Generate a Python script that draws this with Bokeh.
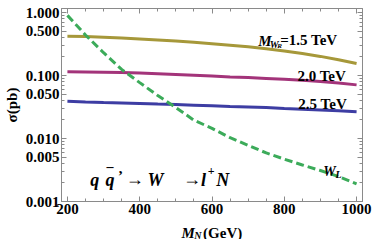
import math
from bokeh.plotting import figure
from bokeh.layouts import column
from bokeh.models import (FixedTicker, PrintfTickFormatter, Label, LogAxis,
                          LinearAxis, Range1d)
from bokeh.embed import file_html
from bokeh.resources import INLINE

# ---- data ----
mn = [200, 250, 300, 350, 400, 450, 500, 550, 600, 650, 700, 750, 800, 850, 900, 950, 1000]
sigma_15 = [0.42, 0.415, 0.405, 0.393, 0.38, 0.366, 0.352, 0.336, 0.32, 0.303, 0.285,
            0.265, 0.245, 0.223, 0.201, 0.178, 0.155]
sigma_20 = [0.115, 0.114, 0.113, 0.112, 0.11, 0.107, 0.104, 0.101, 0.098, 0.095, 0.093,
            0.09, 0.087, 0.084, 0.080, 0.076, 0.071]
sigma_25 = [0.039, 0.038, 0.0372, 0.0366, 0.036, 0.0352, 0.0345, 0.0338, 0.033, 0.0322,
            0.0316, 0.031, 0.030, 0.0292, 0.0284, 0.0275, 0.0265]
sigma_wl = [0.9, 0.44, 0.23, 0.125, 0.077, 0.048, 0.031, 0.0195, 0.0145, 0.0103, 0.0078,
            0.0059, 0.0047, 0.0038, 0.0031, 0.0025, 0.0019]

x_ticks = [200, 400, 600, 800, 1000]
y_ticks = [0.001, 0.005, 0.01, 0.05, 0.1, 0.5, 1.0]

# ---- geometry (layout px, origin top-left) ----
TOT_W, TOT_H = 374, 239
MAIN_H = 220
BOT_H = TOT_H - MAIN_H           # 19
FL, FR, FT, FB = 57, 362, 8, 201  # frame edges
PX200, PX1000 = 63, 356
PY1, PY0 = 12, 201               # pixel rows of 1.0 and 0.001

ppu = (PX1000 - PX200) / 800.0
X0 = 200 - (PX200 - FL) / ppu
X1 = 1000 + (FR - PX1000) / ppu
ppd = (PY0 - PY1) / 3.0
Y0 = 1e-3
Y1 = 10 ** ((PY1 - FT) / ppd)

GRAY = "#8a8a8a"
FONT = "Liberation Serif"


# reference-picture pixel -> data (labels keep their place relative to the axes)
def dx(px):
    return 200 + (px - 63) * 800.0 / (366 - 63)


def dy(py):
    return 10 ** (-(py - 12) * 3.0 / (203 - 12))


p = figure(width=TOT_W, height=MAIN_H, y_axis_type="log", output_backend="svg",
           toolbar_location=None, x_range=Range1d(X0, X1), y_range=Range1d(Y0, Y1),
           min_border_left=FL, min_border_right=TOT_W - FR,
           min_border_top=FT, min_border_bottom=MAIN_H - FB)
p.grid.visible = False
p.background_fill_color = "white"
p.border_fill_color = "white"
p.outline_line_color = GRAY

minor_y = []
for dec in [0.001, 0.01, 0.1]:
    for m in [2, 3, 4, 6, 7, 8, 9]:
        minor_y.append(dec * m)
minor_x = [v for v in range(200, 1001, 50) if v % 200 != 0]


def style(ax, labels=True):
    ax.axis_line_color = GRAY
    ax.major_tick_line_color = GRAY
    ax.minor_tick_line_color = GRAY
    ax.major_tick_in = 5
    ax.major_tick_out = 0
    ax.minor_tick_in = 3
    ax.minor_tick_out = 0
    if labels:
        ax.major_label_text_font = FONT
        ax.major_label_text_font_style = "bold"
        ax.major_label_text_font_size = "15px"
        ax.major_label_text_color = "black"
    else:
        ax.major_label_text_color = None
        ax.major_label_text_font_size = "0px"
        ax.major_label_standoff = 0


p.yaxis.ticker = FixedTicker(ticks=y_ticks, minor_ticks=minor_y)
p.yaxis.formatter = PrintfTickFormatter(format="%.3f")
p.yaxis.major_label_standoff = 2
p.yaxis.axis_label = "\u03c3(pb)"
p.yaxis.axis_label_text_font = FONT
p.yaxis.axis_label_text_font_style = "bold"
p.yaxis.axis_label_text_font_size = "15px"
p.yaxis.axis_label_text_color = "black"
p.yaxis.axis_label_standoff = 3
p.xaxis.ticker = FixedTicker(ticks=x_ticks, minor_ticks=minor_x)
p.xaxis.major_label_standoff = 2
style(p.xaxis[0])
style(p.yaxis[0])

top = LinearAxis(ticker=FixedTicker(ticks=x_ticks, minor_ticks=minor_x))
right = LogAxis(ticker=FixedTicker(ticks=y_ticks, minor_ticks=minor_y))
style(top, labels=False)
style(right, labels=False)
p.add_layout(top, "above")
p.add_layout(right, "right")

p.line(mn, sigma_15, line_color="#a6983a", line_width=3)
p.line(mn, sigma_20, line_color="#a3347a", line_width=3)
p.line(mn, sigma_25, line_color="#3d3da3", line_width=3)
p.line(mn, sigma_wl, line_color="#3cab5a", line_width=3, line_dash="8 4")


def lab(fig, x, y, text, size, style="bold", angle=0.0):
    fig.add_layout(Label(x=x, y=y, text=text,
                         text_font=FONT, text_font_style=style,
                         text_font_size=f"{size}px", text_color="black",
                         text_align="left", text_baseline="alphabetic",
                         angle=angle))


def plab(px, py, text, size, style="bold"):
    lab(p, dx(px), dy(py), text, size, style)


# curve labels
plab(263, 41, "M", 15, "bold italic")
plab(275, 44, "W", 10, "bold italic")
plab(283, 46, "R", 7, "bold italic")
plab(286, 40, "=1.5 TeV", 15)
plab(304, 76, "2.0 TeV", 15)
plab(305, 104, "2.5 TeV", 15)
plab(331, 173, "W", 14, "bold italic")
plab(344, 176, "L", 10, "bold italic")

# process
plab(87, 181, "q", 18, "bold italic")
plab(103, 181, "q", 18, "bold italic")
plab(104, 168, "\u2013", 14, "bold")
plab(116, 177, "\u2019", 15, "bold")
plab(124, 180, "\u2192", 18, "bold")
plab(147, 181, "W", 18, "bold italic")
plab(184, 180, "\u2192", 18, "bold")
plab(203, 181, "l", 18, "bold italic")
plab(210, 172, "+", 12, "bold")
plab(219, 181, "N", 18, "bold italic")


# x axis title strip: same horizontal frame/range as the main plot,
# y range in pixels measured from the strip's bottom
bot = figure(width=TOT_W, height=BOT_H, output_backend="svg", toolbar_location=None,
             x_range=Range1d(X0, X1), y_range=Range1d(0, BOT_H),
             x_axis_location=None, y_axis_location=None,
             min_border_left=FL, min_border_right=TOT_W - FR,
             min_border_top=0, min_border_bottom=0, title=None)
bot.grid.visible = False
bot.outline_line_color = None
bot.background_fill_color = "white"
bot.border_fill_color = "white"


def bx(px):
    return X0 + (px - FL) / ppu


cx = (FL + FR) / 2
lab(bot, bx(cx - 31), TOT_H - 232, "M", 15, "bold italic")
lab(bot, bx(cx - 18), TOT_H - 235, "N", 10, "bold italic")
lab(bot, bx(cx - 9), TOT_H - 232, "(GeV)", 15, "bold")

layout = column(p, bot)
open("out.html", "w").write(file_html(layout, INLINE))
